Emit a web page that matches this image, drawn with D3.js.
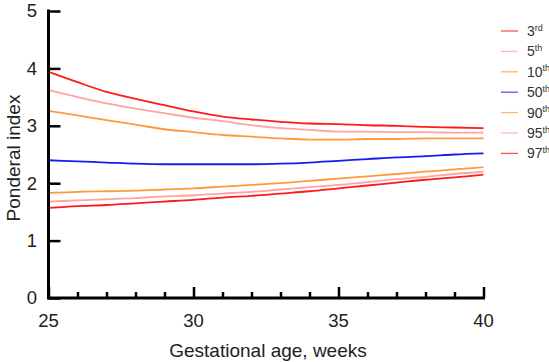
<!DOCTYPE html>
<html>
<head>
<meta charset="utf-8">
<script src="https://cdn.jsdelivr.net/npm/d3@7"></script>
<style>
  body { margin: 0; background: #fff; }
  svg { display: block; font-family: "Liberation Sans", Arial, sans-serif; }
</style>
</head>
<body>
<div id="chart"></div>
<script>
// Gestational age (weeks)
const weeks = [25, 26, 27, 28, 29, 30, 31, 32, 33, 34, 35, 36, 37, 38, 39, 40];

// Ponderal index percentiles
const p3  = [1.57, 1.60, 1.62, 1.65, 1.68, 1.71, 1.75, 1.78, 1.82, 1.86, 1.91, 1.96, 2.01, 2.06, 2.10, 2.15];
const p5  = [1.68, 1.70, 1.72, 1.74, 1.77, 1.79, 1.82, 1.85, 1.89, 1.93, 1.97, 2.02, 2.07, 2.11, 2.16, 2.20];
const p10 = [1.83, 1.85, 1.86, 1.87, 1.89, 1.91, 1.94, 1.97, 2.00, 2.04, 2.08, 2.12, 2.16, 2.20, 2.24, 2.28];
const p50 = [2.40, 2.38, 2.36, 2.34, 2.33, 2.33, 2.33, 2.33, 2.34, 2.36, 2.39, 2.42, 2.45, 2.47, 2.50, 2.52];
const p90 = [3.26, 3.18, 3.10, 3.02, 2.94, 2.89, 2.84, 2.81, 2.78, 2.76, 2.76, 2.77, 2.77, 2.78, 2.78, 2.78];
const p95 = [3.62, 3.50, 3.39, 3.30, 3.22, 3.14, 3.08, 3.01, 2.96, 2.93, 2.90, 2.90, 2.89, 2.89, 2.88, 2.88];
const p97 = [3.94, 3.76, 3.59, 3.47, 3.36, 3.25, 3.16, 3.11, 3.07, 3.04, 3.03, 3.01, 3.00, 2.98, 2.97, 2.96];

const xTicks = [25, 30, 35, 40];
const yTicks = [0, 1, 2, 3, 4, 5];

const series = [
    { num: "3",  sup: "rd", color: "#ff1a1a", data: p3 },
    { num: "5",  sup: "th", color: "#ffa3a3", data: p5 },
    { num: "10", sup: "th", color: "#ff9a3c", data: p10 },
    { num: "50", sup: "th", color: "#1a1aee", data: p50 },
    { num: "90", sup: "th", color: "#ff9a3c", data: p90 },
    { num: "95", sup: "th", color: "#ffa3a3", data: p95 },
    { num: "97", sup: "th", color: "#ff1a1a", data: p97 }
];

const width = 549, height = 362;

const svg = d3.select("#chart").append("svg")
    .attr("width", width)
    .attr("height", height);

// Scales
const x = d3.scaleLinear().domain([25, 40]).range([48.5, 483.5]);
const y = d3.scaleLinear().domain([0, 5]).range([298, 11]);

// Lines
const lineGen = d3.line()
    .x((d, i) => x(weeks[i]))
    .y(d => y(d))
    .curve(d3.curveMonotoneX);

series.forEach(s => {
    svg.append("path")
        .datum(s.data)
        .attr("fill", "none")
        .attr("stroke", s.color)
        .attr("stroke-width", 1.8)
        .attr("d", lineGen);
});

// X axis: inward ticks, minor every week
const xAxisMinor = d3.axisTop(x)
    .tickValues(weeks.filter(w => w % 5 !== 0))
    .tickSize(6).tickFormat("");
const xAxisMajor = d3.axisTop(x)
    .tickValues(xTicks)
    .tickSize(11).tickFormat("");

[xAxisMinor, xAxisMajor].forEach(ax => {
    const g = svg.append("g")
        .attr("transform", `translate(0,${y(0)})`)
        .call(ax);
    g.select(".domain").remove();
    g.selectAll(".tick line").attr("stroke", "#000").attr("stroke-width", 2.5);
});

svg.selectAll(null)
    .data(xTicks)
    .enter().append("text")
    .attr("x", d => x(d))
    .attr("y", 326.5)
    .attr("text-anchor", "middle")
    .style("font-size", "18.5px")
    .style("fill", "#222")
    .text(d => d);

// Y axis: inward ticks
const yAxis = d3.axisRight(y).tickValues(yTicks).tickSize(12).tickFormat("");
const yg = svg.append("g")
    .attr("transform", `translate(${x(25)},0)`)
    .call(yAxis);
yg.select(".domain").remove();
yg.selectAll(".tick line").attr("stroke", "#000").attr("stroke-width", 2.5);

svg.selectAll(null)
    .data(yTicks)
    .enter().append("text")
    .attr("x", 37)
    .attr("y", d => y(d))
    .attr("dy", "0.35em")
    .attr("text-anchor", "end")
    .style("font-size", "18.5px")
    .style("fill", "#222")
    .text(d => d);

// Axis lines
svg.append("path")
    .attr("d", `M${x(25)},${y(5)}V${y(0)}H${x(40)}`)
    .attr("fill", "none")
    .attr("stroke", "#000")
    .attr("stroke-width", 3)
    .attr("stroke-linecap", "square");

// Axis titles
svg.append("text")
    .attr("x", 268)
    .attr("y", 357)
    .attr("text-anchor", "middle")
    .style("font-size", "19px")
    .style("fill", "#222")
    .text("Gestational age, weeks");

svg.append("text")
    .attr("transform", "translate(20,158) rotate(-90)")
    .attr("text-anchor", "middle")
    .style("font-size", "19px")
    .style("fill", "#222")
    .text("Ponderal index");

// Legend
const legend = svg.append("g").attr("transform", "translate(501,31)");
series.forEach((s, i) => {
    const row = legend.append("g").attr("transform", `translate(0,${i * 20.4})`);
    row.append("line")
        .attr("x1", 0).attr("x2", 17)
        .attr("stroke", s.color)
        .attr("stroke-opacity", 0.75)
        .attr("stroke-width", 1.3);
    const t = row.append("text")
        .attr("x", 26)
        .attr("y", 5)
        .style("font-size", "14px")
        .style("fill", "#333");
    t.append("tspan").text(s.num);
    t.append("tspan")
        .attr("dy", -5.5)
        .style("font-size", "9px")
        .text(s.sup);
});
</script>
</body>
</html>
